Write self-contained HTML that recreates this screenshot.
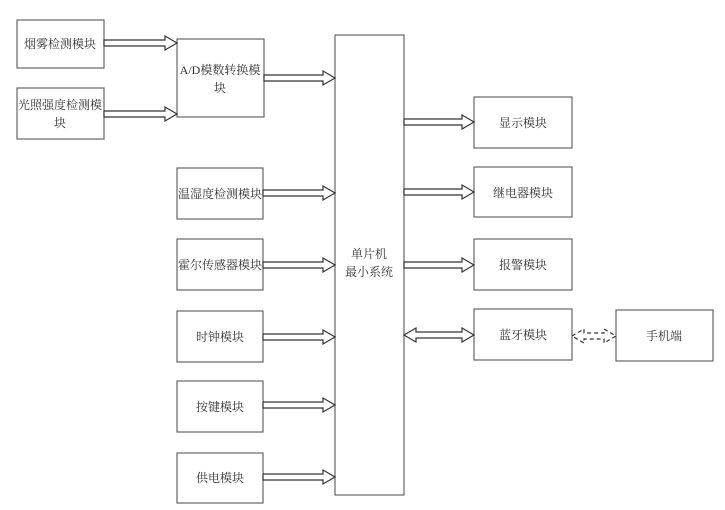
<!DOCTYPE html>
<html><head><meta charset="utf-8"><style>
html,body{margin:0;padding:0;background:#fff;}
svg{display:block;}
text{font-family:"Liberation Serif","Noto Serif CJK SC","Noto Sans CJK SC",serif;font-size:12px;fill:#333;text-anchor:middle;}
rect{fill:#fff;stroke:#666;stroke-width:1.2;}
polygon{fill:#fff;stroke:#333;stroke-width:1.2;}
</style></head><body>
<svg width="725" height="510" viewBox="0 0 725 510" xmlns="http://www.w3.org/2000/svg">
<rect x="17" y="20" width="87" height="48"/><text x="60" y="48">烟雾检测模块</text>
<rect x="17" y="88" width="87" height="51"/><text x="60" y="109">光照强度检测模</text><text x="60" y="127">块</text>
<rect x="177" y="39" width="87" height="78"/><text x="220" y="74">A/D模数转换模</text><text x="220" y="92">块</text>
<rect x="335" y="35" width="69" height="460"/><text x="369" y="258">单片机</text><text x="369" y="276">最小系统</text>
<rect x="177" y="168" width="86" height="51"/><text x="220" y="198">温湿度检测模块</text>
<rect x="177" y="239" width="86" height="51"/><text x="220" y="269">霍尔传感器模块</text>
<rect x="177" y="311" width="86" height="51"/><text x="220" y="341">时钟模块</text>
<rect x="177" y="381" width="86" height="51"/><text x="220" y="411">按键模块</text>
<rect x="177" y="453" width="86" height="50"/><text x="220" y="482">供电模块</text>
<rect x="474" y="97" width="98" height="51"/><text x="523" y="127">显示模块</text>
<rect x="474" y="167" width="98" height="50"/><text x="523" y="197">继电器模块</text>
<rect x="474" y="239" width="98" height="51"/><text x="523" y="269">报警模块</text>
<rect x="474" y="309" width="98" height="51"/><text x="523" y="339">蓝牙模块</text>
<rect x="616" y="310" width="97" height="51"/><text x="664" y="340">手机端</text>
<polygon points="104,40 165,40 165,36 177,43 165,50 165,46 104,46"/>
<polygon points="104,111 165,111 165,107 177,114 165,121 165,117 104,117"/>
<polygon points="264,75 323,75 323,71 335,78 323,85 323,81 264,81"/>
<polygon points="263,190 323,190 323,186 335,193 323,200 323,196 263,196"/>
<polygon points="263,262 323,262 323,258 335,265 323,272 323,268 263,268"/>
<polygon points="263,334 323,334 323,330 335,337 323,344 323,340 263,340"/>
<polygon points="263,402 323,402 323,398 335,405 323,412 323,408 263,408"/>
<polygon points="263,474 323,474 323,470 335,477 323,484 323,480 263,480"/>
<polygon points="404,119 462,119 462,115 474,122 462,129 462,125 404,125"/>
<polygon points="404,189 462,189 462,185 474,192 462,199 462,195 404,195"/>
<polygon points="404,262 462,262 462,258 474,265 462,272 462,268 404,268"/>
<polygon points="404,335 416,328 416,332 462,332 462,328 474,335 462,342 462,338 416,338 416,342"/>
<polygon points="572,336 584,329 584,333 604,333 604,329 616,336 604,343 604,339 584,339 584,343" style="stroke-dasharray:4,3"/>
</svg>
</body></html>
